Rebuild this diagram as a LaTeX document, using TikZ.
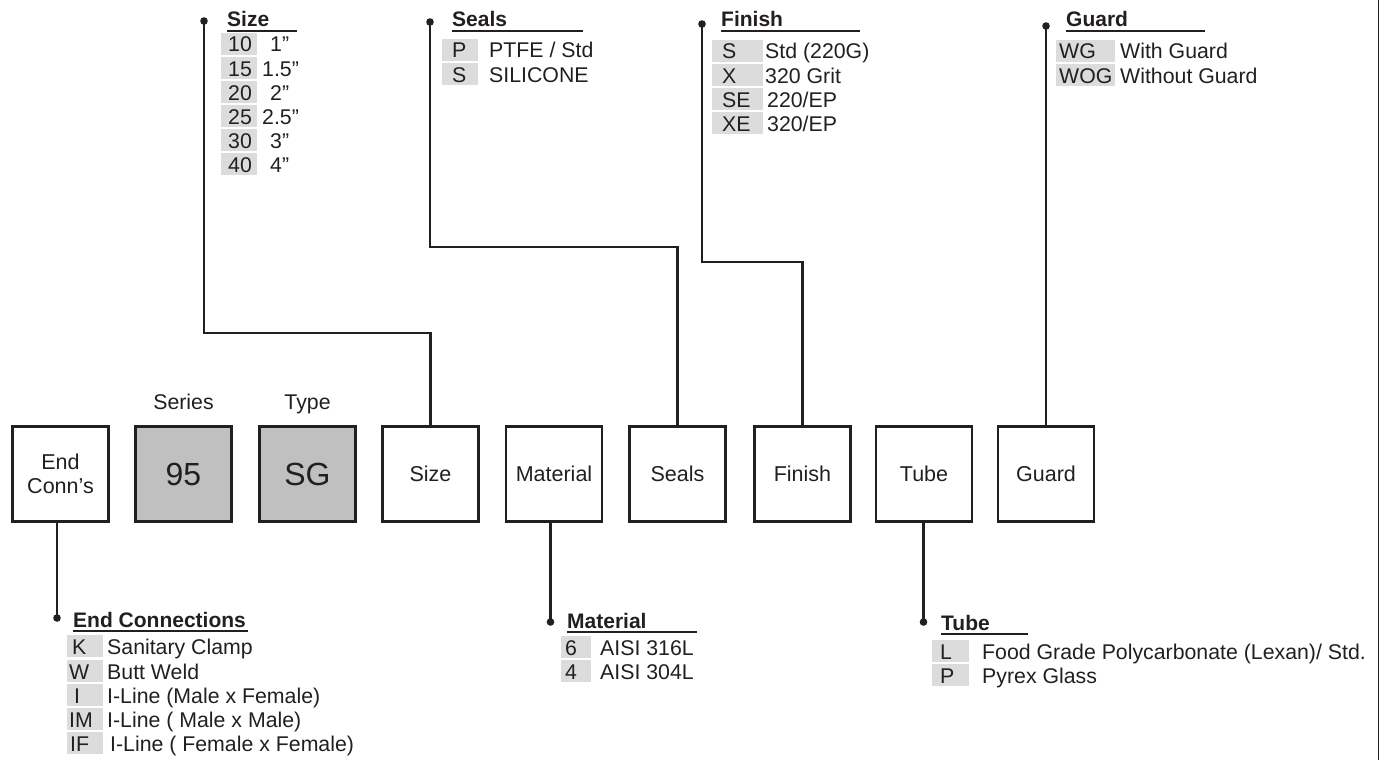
\documentclass[tikz,border=0pt]{standalone}
\usepackage{fontspec}
\setmainfont{Liberation Sans}
\definecolor{ink}{HTML}{231F20}
\definecolor{codebg}{HTML}{DCDCDC}
\definecolor{boxgray}{HTML}{C0C0C0}
\newcommand\optrow[8]{%
  \fill[codebg] (#2,#4) rectangle (#3,#4+22);
  \node[txt,anchor=base west] (#1c) at (#5,#4+19) {#6};
  \node[txt,anchor=base west] (#1t) at (#7,#4+19) {#8};}
\newcommand\heading[5]{%
  \node[head,anchor=base west] (#1) at (#2,#3) {#4};
  \draw[ink,line width=1.3pt] (#2,#3+4) -- (#5,#3+4);}
\begin{document}
\begin{tikzpicture}[x=1pt,y=-1pt,
  txt/.style={inner sep=0pt,text=ink,font=\fontsize{21.3}{24}\selectfont},
  head/.style={inner sep=0pt,text=ink,font=\fontsize{21}{24}\selectfont\bfseries},
  codebox/.style={draw=ink,line width=2.6pt,minimum width=96pt,minimum height=95pt,
    inner sep=0pt,text=ink,font=\fontsize{21.5}{24}\selectfont,align=center},
  graybox/.style={codebox,fill=boxgray,font=\fontsize{32}{36}\selectfont},
  conn/.style={draw=ink,line width=2.6pt},
  dotc/.style={fill=ink}]
\useasboundingbox (0,0) rectangle (1383,760);
\draw[ink,line width=0.8pt] (1378.5,0) -- (1378.5,760);

% main boxes
\node[codebox] (ec) at (60.5,474) {End\\Conn’s};
\node[graybox] (ser) at (183.5,474) {95};
\node[graybox] (typ) at (307.5,474) {SG};
\node[codebox] (sz) at (430.5,474) {Size};
\node[codebox] (mat) at (554,474) {Material};
\node[codebox] (sl) at (677.5,474) {Seals};
\node[codebox] (fin) at (802.5,474) {Finish};
\node[codebox] (tb) at (924,474) {Tube};
\node[codebox] (gd) at (1046,474) {Guard};
\node[txt,anchor=base] (serl) at (183.5,409) {Series};
\node[txt,anchor=base] (typl) at (307.5,409) {Type};

% connectors
\coordinate (szdot) at (204,21);   \coordinate (szbend) at (204,333);
\coordinate (sldot) at (430,22);   \coordinate (slbend) at (430,247);
\coordinate (findot) at (702,24);  \coordinate (finbend) at (702,262);
\coordinate (gddot) at (1046,26);
\coordinate (ecdot) at (57,618);
\coordinate (matdot) at (550.5,622);
\coordinate (tbdot) at (923.5,622);
\draw[conn] (sz.north) |- (szbend) -- (szdot);
\draw[conn] (sl.north) |- (slbend) -- (sldot);
\draw[conn] (fin.north) |- (finbend) -- (findot);
\draw[conn] (gd.north) -- (gddot);
\draw[conn] (ec.south -| ecdot) -- (ecdot);
\draw[conn] (mat.south -| matdot) -- (matdot);
\draw[conn] (tb.south -| tbdot) -- (tbdot);
\foreach \d in {szdot,sldot,findot,gddot,ecdot,matdot,tbdot}
  \fill[dotc] (\d) circle (3.8pt);

% Size
\heading{szh}{227}{27}{Size}{297}
\optrow{sz1}{221}{257}{33}{228}{10}{270}{1”}
\optrow{sz2}{221}{257}{57}{228}{15}{262}{1.5”}
\optrow{sz3}{221}{257}{81}{228}{20}{270}{2”}
\optrow{sz4}{221}{257}{105}{228}{25}{262}{2.5”}
\optrow{sz5}{221}{257}{129}{228}{30}{270}{3”}
\optrow{sz6}{221}{257}{153}{228}{40}{270}{4”}

% Seals
\heading{slh}{452}{27}{Seals}{583}
\optrow{sl1}{442}{478}{39}{452}{P}{489}{PTFE / Std}
\optrow{sl2}{442}{478}{63}{452}{S}{489}{SILICONE}

% Finish
\heading{finh}{721}{27}{Finish}{860}
\optrow{fn1}{712}{763}{40}{722}{S}{765}{Std (220G)}
\optrow{fn2}{712}{763}{64}{722}{X}{765}{320 Grit}
\optrow{fn3}{712}{763}{88}{722}{SE}{767}{220/EP}
\optrow{fn4}{712}{763}{112}{722}{XE}{767}{320/EP}

% Guard
\heading{gdh}{1066}{27}{Guard}{1205}
\optrow{gd1}{1056}{1115}{40}{1059}{WG}{1120}{With Guard}
\optrow{gd2}{1056}{1115}{64}{1059}{WOG}{1120}{Without Guard}

% End connections
\heading{ech}{73}{627}{End Connections}{248}
\optrow{ec1}{67}{103}{635}{72}{K}{107}{Sanitary Clamp}
\optrow{ec2}{67}{103}{660}{69}{W}{107}{Butt Weld}
\optrow{ec3}{67}{103}{684}{74}{I}{107}{I-Line (Male x Female)}
\optrow{ec4}{67}{103}{708}{69}{IM}{107}{I-Line ( Male x Male)}
\optrow{ec5}{67}{103}{732}{70}{IF}{110}{I-Line ( Female x Female)}

% Material
\heading{math}{567}{628}{Material}{697}
\optrow{mt1}{561}{591}{636}{565}{6}{600}{AISI 316L}
\optrow{mt2}{561}{591}{660}{565}{4}{600}{AISI 304L}

% Tube
\heading{tbh}{941}{630}{Tube}{1028}
\optrow{tb1}{932}{969}{640}{940}{L}{982}{Food Grade Polycarbonate (Lexan)/ Std.}
\optrow{tb2}{932}{969}{664}{940}{P}{982}{Pyrex Glass}
\end{tikzpicture}
\end{document}
